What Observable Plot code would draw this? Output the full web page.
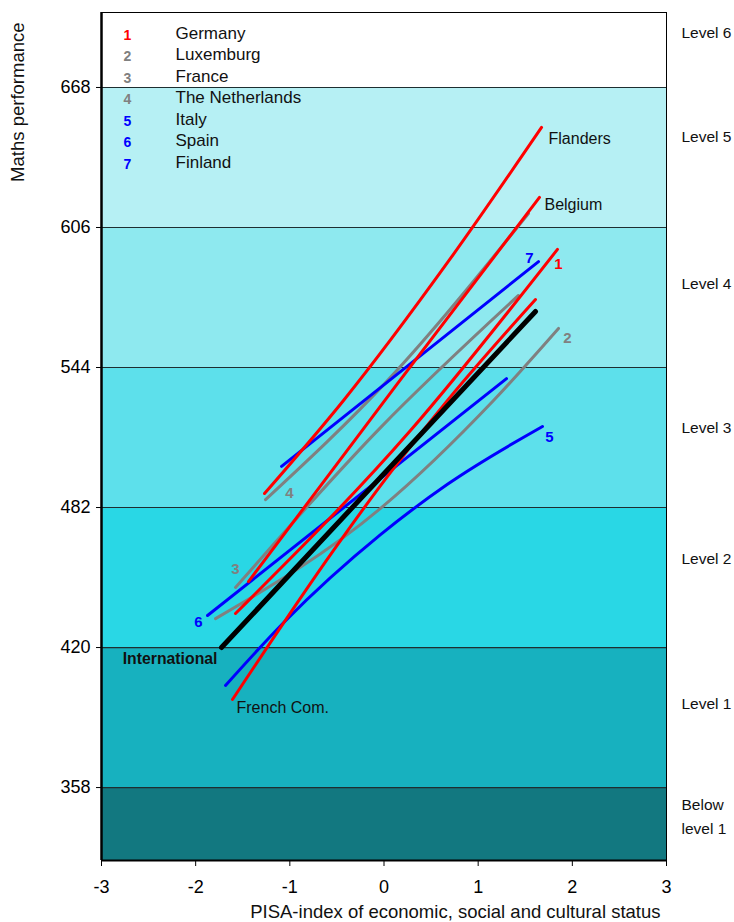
<!DOCTYPE html>
<html><head><meta charset="utf-8">
<script src="https://cdn.jsdelivr.net/npm/d3@7"></script>
<script src="https://cdn.jsdelivr.net/npm/@observablehq/plot@0.6"></script>
<style>body{margin:0;background:#fff;font-family:"Liberation Sans",Arial,sans-serif}</style>
</head><body><div id="chart"></div>
<script>
// ---- data ----
const levelCuts = [358, 420, 482, 544, 606, 668];
const bandLows = [325.7, 358, 420, 482, 544, 606, 668];
const bandHighs = [358, 420, 482, 544, 606, 668, 701.2];
const bandColors = ["#127880", "#17B1BF", "#29D7E5", "#5DE0EB", "#8EE9EF", "#B6F0F4", "#FFFFFF"];
const levelNames = ["Below\nlevel 1", "Level 1", "Level 2", "Level 3", "Level 4", "Level 5", "Level 6"];
const levelLabelY = [345, 395, 459, 517, 581, 646, 692];
const xTicks = [-3, -2, -1, 0, 1, 2, 3];

const legendNums = ["1", "2", "3", "4", "5", "6", "7"];
const legendNames = ["Germany", "Luxemburg", "France", "The Netherlands", "Italy", "Spain", "Finland"];
const legendColors = ["#FF0000", "#808080", "#808080", "#808080", "#0000FF", "#0000FF", "#0000FF"];

// [ESCS index, maths score]
const flanders = [[-1.269, 488.2], [-0.430, 529.4], [0.706, 592.3], [1.673, 650.3]];
const belgium = [[-1.439, 449.2], [0.143, 536.9], [1.651, 619.3]];
const germany = [[-1.577, 435.1], [0.281, 516.1], [1.842, 596.3]];
const frenchCom = [[-1.609, 397.0], [-0.536, 463.0], [-0.037, 491.7], [0.674, 529.4], [1.609, 574.1]];
const luxembourg = [[-1.789, 432.8], [-0.037, 481.6], [1.163, 529.4], [1.853, 561.3]];
const france = [[-1.577, 446.6], [-0.037, 517.4], [1.428, 575.9]];
const netherlands = [[-1.258, 485.5], [0.037, 538.2], [1.534, 612.2]];
const italy = [[-1.683, 403.2], [-1.067, 431.0], [-0.037, 470.0], [0.674, 492.3], [1.683, 517.9]];
const spain = [[-1.874, 434.2], [1.301, 539.1]];
const finland = [[-1.088, 500.2], [1.641, 590.9]];
const international = [[-1.726, 420.0], [1.609, 568.8]];

const RED = "#FF0000", GREY = "#808080", BLUE = "#0000FF";

// ---- chart ----
const bands = bandLows.map((lo, i) => ({lo, hi: bandHighs[i], c: bandColors[i]}));
const ln = (pts, color, w = 3) => Plot.line(pts, {x: d => d[0], y: d => d[1], stroke: color, strokeWidth: w, curve: "monotone-x", strokeLinecap: "round"});
const first = a => [a[0]];
const last = a => [a[a.length - 1]];
const lab = (pts, text, color, opts) => Plot.text(pts, {x: d => d[0], y: d => d[1], text: () => text, fill: color, fontSize: 16, ...opts});

const chart = Plot.plot({
  width: 734, height: 922,
  marginTop: 12, marginBottom: 62, marginLeft: 101, marginRight: 68,
  style: {fontFamily: "'Liberation Sans', Arial, sans-serif", background: "white", color: "black"},
  color: {type: "identity"},
  x: {domain: [-3, 3]},
  y: {domain: [325.7, 701.2]},
  marks: [
    Plot.rect(bands, {x1: -3, x2: 3, y1: "lo", y2: "hi", fill: "c"}),
    Plot.ruleY(levelCuts, {x1: -3, x2: 3, stroke: "#1e2e30", strokeWidth: 1.2}),
    Plot.axisY(levelCuts, {anchor: "left", tickSize: 5, tickPadding: 6, fontSize: 18, label: null}),
    Plot.axisX(xTicks, {anchor: "bottom", tickSize: 6, tickPadding: 14, fontSize: 18, label: null, tickFormat: d => String(d)}),
    Plot.frame({stroke: "black", strokeWidth: 1}),
    Plot.ruleX([-3], {stroke: "black", strokeWidth: 2.5}),
    Plot.ruleY([325.7], {stroke: "black", strokeWidth: 2}),
    // lines
    ln(luxembourg, GREY), ln(france, GREY), ln(netherlands, GREY),
    ln(italy, BLUE), ln(spain, BLUE), ln(finland, BLUE),
    ln(flanders, RED), ln(belgium, RED), ln(germany, RED), ln(frenchCom, RED),
    ln(international, "black", 5),
    // line labels
    lab(last(flanders), "Flanders", "#111", {dx: 7, dy: 11, textAnchor: "start"}),
    lab(last(belgium), "Belgium", "#111", {dx: 5, dy: 7, textAnchor: "start"}),
    lab(first(frenchCom), "French Com.", "#111", {dx: 4, dy: 8, textAnchor: "start"}),
    lab(first(international), "International", "#111", {dx: -4, dy: 11, textAnchor: "end", fontWeight: "bold", fontSize: 15.8}),
    lab(last(finland), "7", BLUE, {dx: -9, dy: -3, fontWeight: "bold", fontSize: 15}),
    lab(last(germany), "1", RED, {dx: 1, dy: 15, fontWeight: "bold", fontSize: 15}),
    lab(last(luxembourg), "2", GREY, {dx: 9, dy: 10, fontWeight: "bold", fontSize: 15}),
    lab(last(italy), "5", BLUE, {dx: 7, dy: 11, fontWeight: "bold", fontSize: 15}),
    lab(first(spain), "6", BLUE, {dx: -9, dy: 7, fontWeight: "bold", fontSize: 15}),
    lab(first(france), "3", GREY, {dx: 0, dy: -18, fontWeight: "bold", fontSize: 15}),
    lab(first(netherlands), "4", GREY, {dx: 24, dy: -6, fontWeight: "bold", fontSize: 15}),
    // legend
    Plot.text(legendNums, {x: -2.724, y: (d, i) => 692.05 - i * 9.52, dy: 2, text: d => d, fill: (d, i) => legendColors[i],
      fontWeight: "bold", fontSize: 14, fontStyle: (d, i) => legendColors[i] === GREY ? "italic" : "normal"}),
    Plot.text(legendNames, {x: -2.214, y: (d, i) => 692.05 - i * 9.52, text: d => d, textAnchor: "start", fontSize: 17, fill: "#111"}),
    // level labels on the right
    Plot.text(levelNames, {x: 3, y: (d, i) => levelLabelY[i], text: d => d, dx: 15, dy: -3, textAnchor: "start", fontSize: 15.5, lineHeight: 1.55, fill: "#111"}),
    // axis titles
    Plot.text(["PISA-index of economic, social and cultural status"], {frameAnchor: "bottom-right", text: d => d, textAnchor: "end", lineAnchor: "middle", dx: -6, dy: 52, fontSize: 18.5, fill: "#111"}),
    Plot.text(["Maths performance"], {frameAnchor: "top-left", text: d => d, rotate: -90, textAnchor: "end", lineAnchor: "middle", dx: -83, dy: 10, fontSize: 18.5, fill: "#111"})
  ]
});

document.getElementById("chart").appendChild(chart);
</script>
</body></html>
